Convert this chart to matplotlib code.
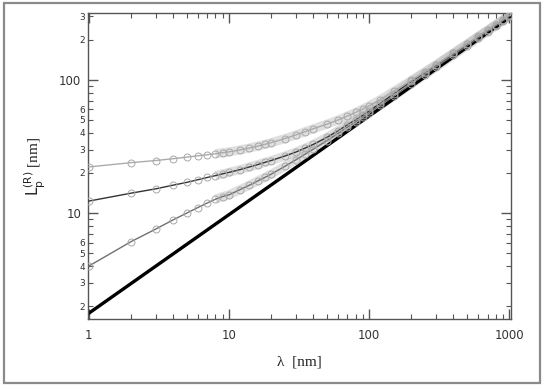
import numpy as np
import matplotlib
matplotlib.use("Agg")
import matplotlib.pyplot as plt
from matplotlib.patches import Rectangle
from matplotlib.ticker import FixedLocator, FixedFormatter

lam = [1, 2, 3, 4, 5, 6, 7, 8, 9, 10, 12, 14, 16, 18, 20, 25, 30, 35, 40, 50,
       60, 70, 80, 90, 100, 120, 150, 200, 250, 300, 400, 500, 600, 700, 800, 900, 1000]

# L_p^(R) [nm] for the three series (top, middle, bottom start)
Lp_top = [22.2, 23.9, 24.8, 25.6, 26.3, 26.9, 27.4, 27.9, 28.4, 28.8, 29.8, 30.8, 31.8,
          32.8, 33.8, 36.2, 38.6, 40.9, 43.0, 46.5, 50.0, 53.5, 57.0, 60.5, 64.0, 71.0,
          82.0, 99.0, 115.0, 130.0, 159.0, 186.0, 212.0, 236.0, 260.0, 283.0, 305.0]
Lp_mid = [12.3, 14.1, 15.2, 16.2, 17.0, 17.8, 18.5, 19.1, 19.7, 20.2, 21.2, 22.2, 23.1,
          24.0, 24.8, 26.8, 28.7, 30.8, 32.8, 37.0, 41.5, 46.0, 50.2, 54.3, 58.5, 66.6,
          78.6, 97.4, 113.5, 129.0, 158.0, 185.0, 211.0, 235.0, 259.0, 282.0, 304.0]
Lp_low = [4.0, 6.1, 7.58, 8.9, 10.0, 11.0, 11.9, 12.7, 13.3, 13.7, 15.0, 16.2, 17.4,
          18.5, 19.6, 22.4, 25.1, 27.7, 30.2, 35.0, 39.6, 44.1, 48.4, 52.5, 56.6, 64.5,
          75.6, 93.2, 109.4, 124.8, 153.8, 180.6, 206.3, 230.9, 254.6, 277.6, 300.0]

# asymptotic power law (black line)
lam_asym = [1, 1000]
Lp_asym = [1.77, 294]

x_major = [1, 10, 100, 1000]
x_minor = [m * d for d in [1, 10, 100] for m in range(2, 10)]
y_major = [10, 100]
y_minor = [m * d for d in [1, 10] for m in range(2, 10)] + [200, 300]
y_minor_labels = [str(m) if m <= 6 else "" for d in [1, 10] for m in range(2, 10)] + ["2", "3"]

fig = plt.figure(figsize=(5.45, 3.9), dpi=100)
fig.patches.append(Rectangle((4 / 545, 7 / 390), 536 / 545, 380 / 390,
                             transform=fig.transFigure, fill=False,
                             ec="#8a8a8a", lw=1.6))
ax = fig.add_axes([88 / 545, 71 / 390, 423 / 545, 306 / 390])

lam_a = np.array(lam)
band = lam_a >= 8
series = [(Lp_low, "#707070"), (Lp_mid, "#333333"), (Lp_top, "#ababab")]
# dense overlapping markers show up as a grey band
for vals, col in series:
    v = np.array(vals)
    ax.plot(lam_a[band], v[band], color="#c0c0c0", lw=6.5, alpha=0.5,
            solid_capstyle="butt", zorder=1)
ax.plot(lam_asym, Lp_asym, color="black", lw=2.4, zorder=2)
for vals, col in series:
    ax.plot(lam, vals, color=col, lw=1.0, zorder=3)
    ax.plot(lam, vals, ls="none", marker="o", mfc="none", mec="#a8a8a8",
            ms=5.0, mew=0.7, zorder=4)

ax.set_xscale("log")
ax.set_yscale("log")
ax.set_xlim(0.985, 1030)
ax.set_ylim(1.6, 318)

ax.xaxis.set_major_locator(FixedLocator(x_major))
ax.xaxis.set_major_formatter(FixedFormatter([str(v) for v in x_major]))
ax.xaxis.set_minor_locator(FixedLocator(x_minor))
ax.xaxis.set_minor_formatter(FixedFormatter([""] * len(x_minor)))
ax.yaxis.set_major_locator(FixedLocator(y_major))
ax.yaxis.set_major_formatter(FixedFormatter([str(v) for v in y_major]))
ax.yaxis.set_minor_locator(FixedLocator(y_minor))
ax.yaxis.set_minor_formatter(FixedFormatter(y_minor_labels))

for s in ax.spines.values():
    s.set_color("#555555")
    s.set_linewidth(1.0)
ax.tick_params(which="both", direction="in", top=True, right=True,
               color="#555555", labelcolor="#333333")
ax.tick_params(which="major", length=7, width=1.0, labelsize=8.5, pad=5)
ax.tick_params(which="minor", length=3.5, width=0.8)
ax.tick_params(axis="y", which="minor", labelsize=6.5, pad=2)
ax.tick_params(axis="x", which="major", pad=7)

plt.rcParams["mathtext.fontset"] = "stix"
ax.set_xlabel("λ  [nm]", family="Liberation Serif", fontsize=11, color="#222222")
ax.set_ylabel(r"$\mathrm{L}_\mathrm{p}^{\mathrm{(R)}}$ [nm]", family="Liberation Serif",
              fontsize=11, color="#222222")
ax.xaxis.set_label_coords(0.5, -0.12)
ax.yaxis.set_label_coords(-0.095, 0.5)

fig.savefig("out.png", dpi=100)
